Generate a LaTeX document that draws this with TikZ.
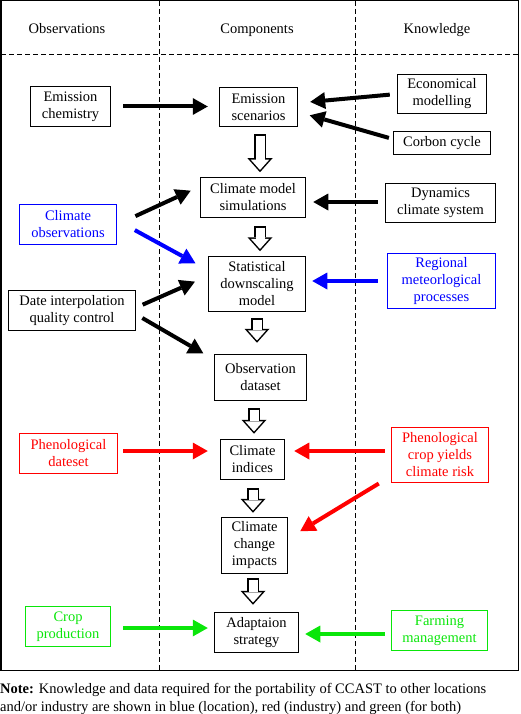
\documentclass[tikz,border=0pt]{standalone}
\usepackage{fontspec}
\setmainfont{Liberation Serif}
\usetikzlibrary{positioning}
\usetikzlibrary{arrows.meta}
\usetikzlibrary{calc}
\definecolor{limeg}{RGB}{10,230,10}
\tikzset{
    mynode/.style = {rectangle, line width=1.5pt, draw=black, align=center, inner sep=1pt, font=\fontsize{14.5}{17}\selectfont, text=black},
    mynodeb/.style = {rectangle, line width=1.5pt, draw=blue, align=center, inner sep=1pt, font=\fontsize{14.5}{17}\selectfont, text=blue},
    mynoder/.style = {rectangle, line width=1.5pt, draw=red, align=center, inner sep=1pt, font=\fontsize{14.5}{17}\selectfont, text=red},
    mynodeg/.style = {rectangle, line width=1.5pt, draw=limeg, align=center, inner sep=1pt, font=\fontsize{14.5}{17}\selectfont, text=limeg},
    mynodeh/.style = {align=center, inner sep=0pt, font=\fontsize{14.5}{17}\selectfont, text height=10pt, text depth=3pt},
    mynoten/.style = {anchor=base west, inner sep=0pt, font=\fontsize{14.5}{17}\selectfont},
    edgen/.style = {-{Triangle[length=15pt,width=17pt,line width=0pt]}, line width=4pt, black},
    edgeb/.style = {-{Triangle[length=15pt,width=17pt,line width=0pt]}, line width=4pt, blue},
    edger/.style = {-{Triangle[length=15pt,width=17pt,line width=0pt]}, line width=4pt, red},
    edgeg/.style = {-{Triangle[length=15pt,width=17pt,line width=0pt]}, line width=4pt, limeg},
    edgeho/.style = {-{Triangle[length=14pt,width=25pt,line width=0pt]}, line width=12pt, black,
        postaction={draw, white, line width=9pt, shorten <=1.5pt, shorten >=2.25pt, -{Triangle[length=10.25pt,width=18.3pt,line width=0pt]}}}, % hollow
    gridline/.style = {line width=1pt, dash pattern=on 5pt off 3pt}
}

\begin{document}
\begin{tikzpicture}[x=1pt,y=-1pt]
\useasboundingbox (0,0) rectangle (520,714);

% frame and columns
\draw[line width=1.5pt] (0.75,0.75) rectangle (518.5,670.5);
\draw[gridline] (159,1) -- (159,670);
\draw[gridline] (355,1) -- (355,670);
\draw[gridline] (1,55) -- (518,55);

\node[mynodeh] at ( 67, 30) (hobs) {Observations};
\node[mynodeh] at (257, 30) (hcom) {Components};
\node[mynodeh] at (437, 30) (hkno) {Knowledge};

\node[mynode, minimum width=80pt, minimum height=40pt] at ( 70.5,106.5) (ec) {Emission\\chemistry};
\node[mynode, minimum width=78pt, minimum height=39pt] at (258.5,107) (es) {Emission\\scenarios};
\node[mynode, minimum width=89pt, minimum height=39pt] at (442,94) (em) {Economical\\modelling};
\node[mynode, minimum width=97pt, minimum height=23pt] at (442,143) (cc) {Corbon cycle};
\node[mynode, minimum width=105pt, minimum height=40pt] at (253,197.5) (cms) {Climate model\\simulations};
\node[mynode, minimum width=110pt, minimum height=39pt] at (440.5,203) (dcs) {Dynamics\\climate system};
\node[mynodeb, minimum width=97pt, minimum height=40pt] at ( 68,224.5) (co) {Climate\\observations};
\node[mynode, minimum width=97pt, minimum height=55pt] at (257,284) (sdm) {Statistical\\downscaling\\model};
\node[mynodeb, minimum width=108pt, minimum height=55pt] at (441.5,281) (rmp) {Regional\\meteorlogical\\processes};
\node[mynode, minimum width=127pt, minimum height=40pt] at ( 72,310.5) (dic) {Date interpolation\\quality control};
\node[mynode, minimum width=92pt, minimum height=46pt] at (260.5,377.5) (od) {Observation\\dataset};
\node[mynoder, minimum width=98pt, minimum height=40pt] at ( 68.5,453.5) (pd) {Phenological\\dateset};
\node[mynode, minimum width=64pt, minimum height=40pt] at (252.5,459.5) (ci) {Climate\\indices};
\node[mynoder, minimum width=97pt, minimum height=55pt] at (440,455) (pcy) {Phenological\\crop yields\\climate risk};
\node[mynode, minimum width=66pt, minimum height=56pt] at (254.5,545.5) (cci) {Climate\\change\\impacts};
\node[mynodeg, minimum width=85pt, minimum height=40pt] at ( 68,626.5) (cp) {Crop\\production};
\node[mynode, minimum width=84pt, minimum height=40pt] at (256.5,632.5) (as) {Adaptaion\\strategy};
\node[mynodeg, minimum width=96pt, minimum height=40pt] at (439.5,630.5) (fm) {Farming\\management};

\node[mynoten] at (0,693) (note1) {\textbf{Note:} Knowledge and data required for the portability of CCAST to other locations};
\node[mynoten] at (0,711) (note2) {and/or industry are shown in blue (location), red (industry) and green (for both)};

% inputs
\draw[edgen, shorten <=12pt, shorten >=11pt] (ec.east) -- (ec.east -| es.west);
\draw[edgen, shorten <=7pt, shorten >=12pt] (em.west) -- ([yshift=4pt]es.east);
\draw[edgen, shorten <=4pt, shorten >=12pt] ([yshift=4pt]cc.west) -- ([yshift=-5pt]es.east);
\draw[edgen, shorten <=20pt, shorten >=10pt] (co.east) -- ([yshift=11pt]cms.west);
\draw[edgeb, shorten <=20pt, shorten >=14pt] ([yshift=4pt]co.east) -- ([yshift=14pt]sdm.west);
\draw[edgen, shorten <=7pt, shorten >=7pt] ([yshift=1pt]dcs.west) -- ([yshift=1pt]dcs.west -| cms.east);
\draw[edgeb, shorten <=9pt, shorten >=6pt] (rmp.west) -- (rmp.west -| sdm.east);
\draw[edgen, shorten <=7pt, shorten >=14pt] ([yshift=3pt]dic.east) -- ([yshift=8pt]sdm.west);
\draw[edgen, shorten <=7pt, shorten >=12pt] ([yshift=-4pt]dic.east) -- ([yshift=18pt]od.west);
\draw[edger, shorten <=5pt, shorten >=12pt] ([yshift=2.5pt]pd.east) -- ([yshift=2.5pt]pd.east -| ci.west);
\draw[edger, shorten <=6pt, shorten >=9pt] ([yshift=4pt]pcy.west) -- ([yshift=4pt]pcy.west -| ci.east);
\draw[edger, shorten <=14pt, shorten >=14pt] ([yshift=7pt]pcy.south west) -- ([yshift=7pt]cci.east);
\draw[edgeg, shorten <=12pt, shorten >=6pt] ([yshift=-1.5pt]cp.east) -- ([yshift=-1.5pt]cp.east -| as.west);
\draw[edgeg, shorten <=6pt, shorten >=6pt] ([yshift=-3.5pt]fm.west) -- ([yshift=-3.5pt]fm.west -| as.east);

% main chain
\draw[edgeho] ($(es.south)+(1.5,7)$) -- ($(es.south |- cms.north)+(1.5,-4.5)$);
\draw[edgeho] ($(cms.south)+(7,8)$) -- ($(cms.south |- sdm.north)+(7,-4.5)$);
\draw[edgeho] ($(sdm.south)+(0,6)$) -- ($(sdm.south |- od.north)+(0,-11)$);
\draw[edgeho] ($(od.south)+(-6.5,7)$) -- ($(od.south |- ci.north)+(-6.5,-5)$);
\draw[edgeho] ($(ci.south)+(0.5,8)$) -- ($(ci.south |- cci.north)+(0.5,-4)$);
\draw[edgeho] ($(cci.south)+(-1.5,4)$) -- ($(cci.south |- as.north)+(-1.5,-7)$);

\end{tikzpicture}
\end{document}
